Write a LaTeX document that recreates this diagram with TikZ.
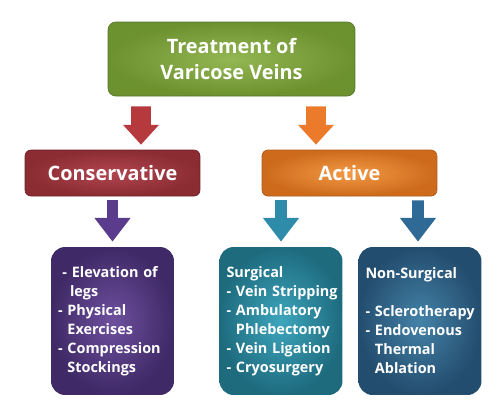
\documentclass[tikz,border=0pt]{standalone}
\usepackage{fontspec}
\setmainfont{Open Sans}
\usepackage{tikz}
\usetikzlibrary{positioning,arrows.meta}
\hyphenpenalty=10000
\exhyphenpenalty=10000
\hbadness=10000
\hfuzz=20pt

\definecolor{greenin}{HTML}{93B752}
\definecolor{greenout}{HTML}{6C912F}
\definecolor{greenline}{HTML}{56772A}
\definecolor{redin}{HTML}{B24550}
\definecolor{redout}{HTML}{8A2C31}
\definecolor{orangein}{HTML}{F39A45}
\definecolor{orangeout}{HTML}{CD6A1C}
\definecolor{purplein}{HTML}{6E509E}
\definecolor{purpleout}{HTML}{3F2966}
\definecolor{tealin}{HTML}{3DA6BD}
\definecolor{tealout}{HTML}{1E6B7E}
\definecolor{bluein}{HTML}{4482A8}
\definecolor{blueout}{HTML}{234D6E}
\definecolor{arrred}{HTML}{B63A3D}
\definecolor{arrorange}{HTML}{EB7B2B}
\definecolor{arrpurple}{HTML}{5B3B8C}
\definecolor{arrteal}{HTML}{2E8BA9}
\definecolor{arrblue}{HTML}{2F6A96}

\begin{document}
\begin{tikzpicture}[x=0.02cm,y=-0.02cm]
\tikzstyle{caja} = [shade, rounded corners=3.4pt, text=white, font=\bfseries\fontsize{11.3}{15.3}\selectfont, align=center, inner sep=0pt]
\tikzstyle{lista} = [shade, rounded corners=8pt, text=white, font=\bfseries\fontsize{8.2}{10.8}\selectfont, align=left, minimum width=2.46cm, minimum height=2.96cm, text width=2.18cm, inner xsep=0.14cm]
\tikzstyle{flecha} = [line width=11.3pt, -{Triangle[width=19.8pt,length=11.3pt]}]
\tikzstyle{flechita} = [line width=6.8pt, -{Triangle[width=19.8pt,length=13.6pt]}]

\useasboundingbox (0,0) rectangle (500,417);

\node[caja, rounded corners=4.5pt, inner color=greenin, outer color=greenout, draw=greenline, minimum width=4.94cm, minimum height=1.48cm] (top) at (231.5,59) {Treatment of\\Varicose Veins};

\node[caja, inner color=redin, outer color=redout, draw=redout!80!black, minimum width=3.5cm, minimum height=0.92cm] (cons) at (112.5,173) {Conservative};
\node[caja, inner color=orangein, outer color=orangeout, draw=orangeout!85!black, minimum width=3.5cm, minimum height=0.92cm] (act) at (349.5,173) {Active};

\node[lista, inner color=purplein, outer color=purpleout] (home) at (112.5,321) {\hspace*{2.5pt}-~Elevation~of\\\hspace*{1.5pt}\hphantom{-~}legs\\-~Physical\\\hphantom{-~}Exercises\\-~Compression\\\hphantom{-~}Stockings};
\node[lista, inner color=tealin, outer color=tealout] (surg) at (281,321) {Surgical\\-~Vein~Stripping\\-~Ambulatory\\\hphantom{-~}Phlebectomy\\-~Vein~Ligation\\-~Cryosurgery};
\node[lista, inner color=bluein, outer color=blueout] (nonsurg) at (420,321) {Non-Surgical\\[10.8pt]-~Sclerotherapy\\-~Endovenous\\\hphantom{-~}Thermal\\\hphantom{-~}Ablation};

\draw[flecha, draw=arrred] ([shift={(-90.5,10)}]top.south) -- ([shift={(28.5,-5)}]cons.north);
\draw[flecha, draw=arrorange] ([shift={(84.5,10)}]top.south) -- ([shift={(-33.5,-5)}]act.north);

\draw[flechita, draw=arrpurple] ([shift={(0,4)}]cons.south) -- ([shift={(0,-5)}]home.north);
\draw[flechita, draw=arrteal] ([shift={(-68.5,4)}]act.south) -- ([shift={(0,-5)}]surg.north);
\draw[flechita, draw=arrblue] ([shift={(68.5,4)}]act.south) -- ([shift={(-2,-5)}]nonsurg.north);
\end{tikzpicture}
\end{document}
